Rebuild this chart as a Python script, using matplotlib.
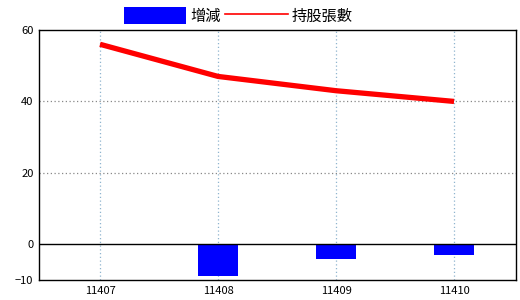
import matplotlib
matplotlib.use("Agg")
import matplotlib.pyplot as plt
from matplotlib.patches import Patch
from matplotlib.lines import Line2D

plt.rcParams['font.family'] = ['Noto Sans CJK TC', 'DejaVu Sans']

categories = ["11407", "11408", "11409", "11410"]
change = [0, -9, -4, -3]
shares = [56, 47, 43, 40]
yticks = [-10, 0, 20, 40, 60]

fig = plt.figure(figsize=(5.2, 3.0), dpi=100)
ax = fig.add_axes([39/520, 1 - 280/300, 477/520, 250/300])

x = list(range(len(categories)))
ax.bar(x, change, width=0.34, color="#0000ff", zorder=3)
ax.plot(x, shares, color="#ff0000", linewidth=3.8, solid_capstyle="butt", zorder=4)
ax.axhline(0, color="black", linewidth=1, zorder=5)

ax.set_xlim(-0.517, 3.525)
ax.set_ylim(-10, 60)
ax.set_xticks(x)
ax.set_xticklabels(categories)
ax.set_yticks(yticks)
ax.tick_params(axis="both", length=0, labelsize=8, colors="black")
ax.tick_params(axis="x", pad=4)
ax.tick_params(axis="y", pad=4)

for xi in x:
    ax.axvline(xi, color="#8fb4cf", linestyle=(0, (1, 2)), linewidth=0.9, zorder=1)
for yv in [20, 40]:
    ax.axhline(yv, color="#888888", linestyle=(0, (1, 2)), linewidth=0.9, zorder=1)

for s in ax.spines.values():
    s.set_color("black")
    s.set_linewidth(1)

handles = [Patch(facecolor="#0000ff", edgecolor="none"),
           Line2D([0], [0], color="#ff0000", linewidth=1.2)]
leg = fig.legend(handles, ["增減", "持股張數"], loc="center", ncol=2,
                 bbox_to_anchor=(238/520, 1 - 16/300), frameon=False,
                 fontsize=11, handlelength=4.1, handleheight=1.3,
                 handletextpad=0.25, columnspacing=0.3)

fig.savefig("out.png", dpi=100)
